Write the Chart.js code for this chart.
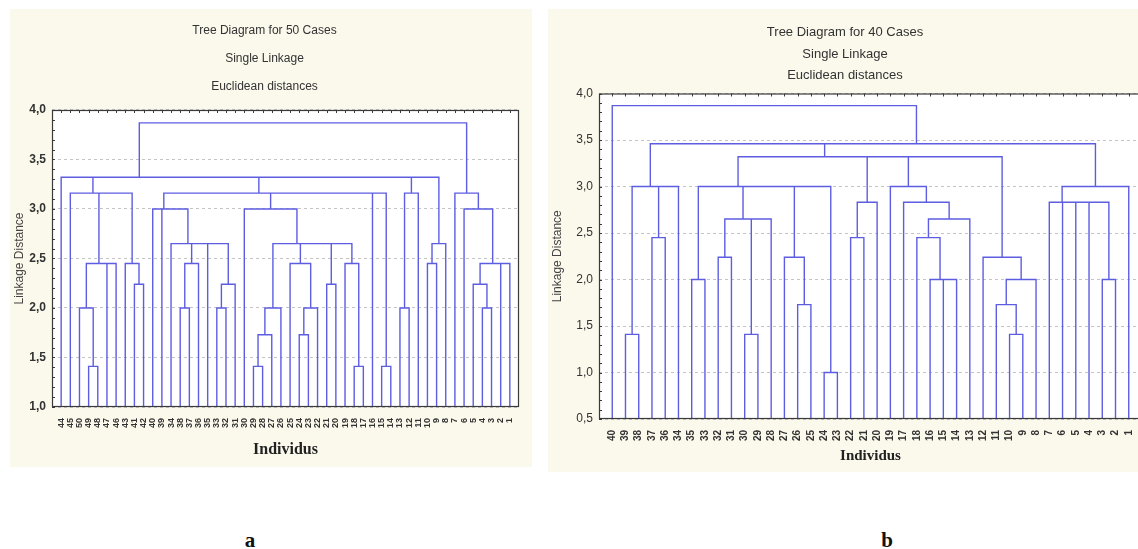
<!DOCTYPE html>
<html><head><meta charset="utf-8">
<script src="https://cdn.jsdelivr.net/npm/chart.js@4.4.1/dist/chart.umd.min.js"></script>
<style>
html,body{margin:0;padding:0;background:#fff;width:1138px;height:549px;overflow:hidden;position:relative}
canvas{position:absolute}
#ca{left:10px;top:9px;background:#fbf8ec}
#cb{left:548px;top:9px;background:#fbf8ec}
.lab{position:absolute;font:bold 21px "Liberation Serif",serif;color:#111;transform:translate(-50%,-50%)}
</style></head><body>
<canvas id="ca" width="522" height="458"></canvas>
<canvas id="cb" width="610" height="463"></canvas>
<div class="lab" style="left:250px;top:540px">a</div>
<div class="lab" style="left:887px;top:540px">b</div>
<script>
// ---------- data: chart a (50 cases) ----------
const titleA = ['Tree Diagram for 50 Cases', 'Single Linkage', 'Euclidean distances'];
const labelsA = ['44','45','50','49','48','47','46','43','41','42','40','39','34','38','37','36','35','33','32','31',
                 '30','29','28','27','26','25','24','23','22','21','20','19','18','17','16','15','14','13','12','11',
                 '10','9','8','7','6','5','4','3','2','1'];
const yRangeA = [1.0, 4.0];
// merges: [height, left, right]; numbers are leaf positions in labelsA
const a_b  = [3.16, 1, [3.16, [2.45, [2.0, 2, [1.41, 3, 4]], [2.45, 5, 6]], [2.45, 7, [2.24, 8, 9]]]];
const a_c1 = [3.0, 10, [3.0, 11, [2.65, 12, [2.65, [2.45, [2.0, 13, 14], 15], [2.65, 16, [2.24, [2.0, 17, 18], 19]]]]]];
const a_c2 = [3.0, 20, [2.65, [2.0, [1.73, [1.41, 21, 22], 23], 24],
                [2.65, [2.45, 25, [2.0, [1.73, 26, 27], 28]], [2.65, [2.24, 29, 30], [2.45, 31, [1.41, 32, 33]]]]]];
const a_c  = [3.16, a_c1, [3.16, [3.16, a_c2, 34], [1.41, 35, 36]]];
const a_d  = [3.16, [2.0, 37, 38], 39];
const a_e  = [2.65, [2.45, 40, 41], 42];
const a_A  = [3.32, 0, [3.32, a_b, [3.32, a_c, [3.32, a_d, a_e]]]];
const a_B  = [3.16, 43, [3.0, 44, [2.45, [2.24, 45, [2.0, 46, 47]], [2.45, 48, 49]]]];
const treeA = [3.87, a_A, a_B];

// ---------- data: chart b (40 cases) ----------
const titleB = ['Tree Diagram for 40 Cases', 'Single Linkage', 'Euclidean distances'];
const labelsB = ['40','39','38','37','36','34','35','33','32','31','30','29','28','27','26','25','24','23','22','21',
                 '20','19','17','18','16','15','14','13','12','11','10','9','8','7','6','5','4','3','2','1'];
const yRangeB = [0.5, 4.0];
const b_1  = [3.0, [1.41, 1, 2], [3.0, [2.45, 3, 4], 5]];
const b_g  = [3.0, [2.0, 6, 7], [3.0, [2.65, [2.24, 8, 9], [2.65, [1.41, 10, 11], 12]], [3.0, [2.24, 13, [1.73, 14, 15]], [1.0, 16, 17]]]];
const b_h1 = [2.83, [2.45, 18, 19], 20];
const b_h2 = [3.0, 21, [2.83, 22, [2.65, [2.45, 23, [2.0, 24, [2.0, 25, 26]]], 27]]];
const b_h3 = [2.24, 28, [2.0, [1.73, 29, [1.41, 30, 31]], 32]];
const b_2  = [3.32, b_g, [3.32, b_h1, [3.32, b_h2, b_h3]]];
const b_3  = [3.0, [2.83, 33, [2.83, 34, [2.83, 35, [2.83, 36, [2.0, 37, 38]]]]], 39];
const treeB = [3.87, 0, [3.46, [3.46, b_1, b_2], b_3]];

// ---------- helpers ----------
function segments(tree, base) {
  const pts = [];
  (function walk(n) {
    if (!Array.isArray(n)) return {x: n, y: base};
    const a = walk(n[1]), b = walk(n[2]);
    pts.push({x: a.x, y: a.y}, {x: a.x, y: n[0]}, {x: b.x, y: n[0]}, {x: b.x, y: b.y}, {x: b.x, y: null});
    return {x: (a.x + b.x) / 2, y: n[0]};
  })(tree);
  return pts;
}

const framePlugin = {
  id: 'frame',
  beforeDraw(chart) {
    const {ctx, chartArea: a} = chart;
    ctx.save(); ctx.fillStyle = '#ffffff';
    ctx.fillRect(a.left, a.top, a.width, a.height); ctx.restore();
  },
  afterDraw(chart) {
    const {ctx, chartArea: a, scales: {x, y}} = chart;
    const n = chart.options.plugins.frame.leaves;
    ctx.save();
    ctx.strokeStyle = '#3a3a3a'; ctx.lineWidth = 1.2;
    ctx.strokeRect(a.left + 0.5, a.top + 0.5, a.width - 1, a.height - 1);
    ctx.lineWidth = 1; ctx.beginPath();
    for (let i = 0; i < n; i++) {
      const px = Math.round(x.getPixelForValue(i)) + 0.5;
      ctx.moveTo(px, a.top); ctx.lineTo(px, a.top + 3);
    }
    for (let v = y.min; v <= y.max + 1e-9; v += 0.1) {
      const py = Math.round(y.getPixelForValue(v)) + 0.5;
      ctx.moveTo(a.left, py); ctx.lineTo(a.left + 3, py);
    }
    ctx.stroke(); ctx.restore();
  }
};

function makeChart(id, cfg) {
  const narrow = '"Liberation Sans Narrow","Arial Narrow","Liberation Sans",Arial,sans-serif';
  return new Chart(document.getElementById(id), {
    type: 'line',
    data: { datasets: [{
      data: segments(cfg.tree, cfg.yRange[0]),
      borderColor: '#5d5de2', borderWidth: 1.4, pointRadius: 0, tension: 0, spanGaps: false, fill: false
    }]},
    options: {
      responsive: false, animation: false, events: [],
      layout: { padding: { left: 0, right: cfg.padRight, top: 0, bottom: 0 } },
      plugins: {
        legend: { display: false }, tooltip: { enabled: false },
        frame: { leaves: cfg.labels.length },
        title: { display: true, text: cfg.title, color: '#333',
          font: { family: '"Liberation Sans",Arial,sans-serif', size: cfg.titleSize, weight: 'normal', lineHeight: cfg.titleLH },
          padding: cfg.titlePad }
      },
      scales: {
        x: { type: 'linear', min: -1, max: cfg.labels.length,
          afterFit: s => { s.height = cfg.xH; },
          afterBuildTicks: s => { s.ticks = cfg.labels.map((_, i) => ({ value: i })); },
          grid: { display: false }, border: { display: false },
          ticks: { autoSkip: false, maxRotation: 90, minRotation: 90, padding: 3, color: '#333',
            font: { family: narrow, size: cfg.xFont, weight: 'bold' },
            callback: v => cfg.labels[v] },
          title: { display: true, text: 'Individus', color: '#222',
            font: { family: '"Liberation Serif","Times New Roman",serif', size: cfg.indFont, weight: 'bold' },
            padding: { top: 0, bottom: cfg.indPad } } },
        y: { min: cfg.yRange[0], max: cfg.yRange[1],
          afterFit: s => { s.width = cfg.yW; },
          grid: { color: '#c4c4c4', lineWidth: 1, drawTicks: false },
          border: { display: false, dash: [3, 3] },
          ticks: { stepSize: 0.5, padding: 6, color: '#333',
            font: { family: narrow, size: 12, weight: cfg.yWeight },
            callback: v => v.toFixed(1).replace('.', ',') },
          title: { display: true, text: 'Linkage Distance', color: '#444',
            font: { family: 'Liberation Sans,Arial,sans-serif', size: 12 },
            padding: { top: 2, bottom: 0 } } }
      }
    },
    plugins: [framePlugin]
  });
}

makeChart('ca', { tree: treeA, labels: labelsA, yRange: yRangeA, title: titleA,
  titleSize: 12, titleLH: 2.333,
  titlePad: { top: 8, bottom: 9 }, yW: 42, xH: 60, padRight: 13, xFont: 9, indFont: 16, indPad: 8, yWeight: 'bold' });
makeChart('cb', { tree: treeB, labels: labelsB, yRange: yRangeB, title: titleB,
  titleSize: 13, titleLH: 1.654,
  titlePad: { top: 13, bottom: 7 }, yW: 51, xH: 53, padRight: 16, xFont: 10, indFont: 15, indPad: 7, yWeight: 'normal' });
</script></body></html>
